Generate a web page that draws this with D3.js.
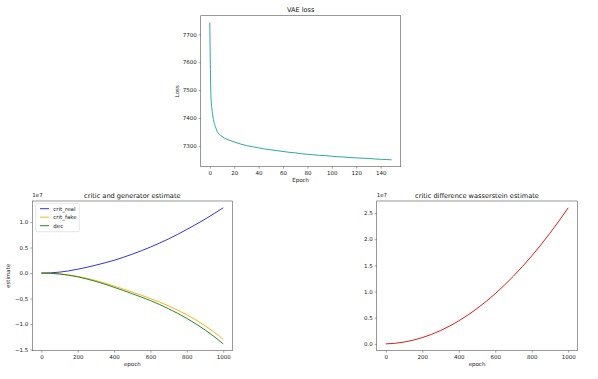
<!DOCTYPE html>
<html><head><meta charset="utf-8">
<script src="https://cdn.jsdelivr.net/npm/d3@7"></script>
<style>
html,body{margin:0;padding:0;background:#fff;}
svg{display:block;font-family:"DejaVu Sans",sans-serif;}
</style></head>
<body><svg id="c" width="598" height="379"></svg>
<script>
// ---- data ----
const vaeEpochs = [0,1,2,3,4,5,6,7,8,10,12,15,20,25,30,35,40,45,50,55,60,65,70,75,80,85,90,95,100,105,110,115,120,125,130,135,140,145,149];
const vaeLoss   = [7742,7472,7424,7394,7376,7364,7352,7346,7340,7334,7328,7322,7314,7307,7301,7297,7293,7289,7286,7283,7280,7277,7275,7272,7270,7268,7266,7265,7263,7261,7260,7258,7257,7256,7255,7253,7252,7251,7250];

const ganEpochs = [0,50,100,150,200,250,300,350,400,450,500,550,600,650,700,750,800,850,900,950,1000];
const critReal  = [0,0.004,0.018,0.042,0.075,0.113,0.155,0.201,0.25,0.308,0.371,0.438,0.51,0.588,0.671,0.76,0.855,0.954,1.057,1.166,1.28];
const critFake  = [0,-0.004,-0.016,-0.036,-0.065,-0.103,-0.148,-0.199,-0.255,-0.313,-0.373,-0.435,-0.5,-0.57,-0.646,-0.729,-0.82,-0.92,-1.033,-1.159,-1.3];
const decVals   = [0,-0.005,-0.019,-0.043,-0.075,-0.117,-0.165,-0.219,-0.28,-0.342,-0.406,-0.472,-0.54,-0.618,-0.702,-0.792,-0.89,-0.998,-1.116,-1.246,-1.39];
const wassVals  = [0,0.011,0.035,0.071,0.12,0.181,0.255,0.341,0.44,0.551,0.675,0.811,0.96,1.121,1.295,1.481,1.68,1.891,2.115,2.351,2.6];

const vaeXTicks = [0,20,40,60,80,100,120,140];
const vaeYTicks = [7300,7400,7500,7600,7700];
const ganXTicks = [0,200,400,600,800,1000];
const ganYTicks = [-1.5,-1.0,-0.5,0.0,0.5,1.0];
const wassYTicks = [0.0,0.5,1.0,1.5,2.0,2.5];

const seriesNames = ["crit_real","crit_fake","dec"];
const seriesColors = ["#1a1ae0","#ffa500","#0a800a"];

// ---- drawing ----
const svg = d3.select("#c");
const FS = 5.5, TFS = 6.6;

function mplDomain(vals){
  const mn = d3.min(vals), mx = d3.max(vals), m = (mx-mn)*0.05;
  return [mn-m, mx+m];
}

function panel(o){
  const g = svg.append("g");
  const x = d3.scaleLinear().domain(o.xDomain).range([o.l, o.r]);
  const y = d3.scaleLinear().domain(o.yDomain).range([o.b, o.t]);
  o.series.forEach(s=>{
    const data = s.x.map((v,i)=>[v,s.y[i]]);
    g.append("path").datum(data)
      .attr("fill","none").attr("stroke",s.color).attr("stroke-width",s.w||0.9)
      .attr("stroke-linejoin","round")
      .attr("d", d3.line().curve(d3.curveMonotoneX).x(d=>x(d[0])).y(d=>y(d[1])));
  });
  const xa = g.append("g").attr("transform",`translate(0,${o.b})`)
    .call(d3.axisBottom(x).tickValues(o.xTicks).tickSize(2).tickPadding(2).tickFormat(o.xFmt||d3.format("d")));
  const ya = g.append("g").attr("transform",`translate(${o.l},0)`)
    .call(d3.axisLeft(y).tickValues(o.yTicks).tickSize(2).tickPadding(2).tickFormat(o.yFmt||d3.format("d")));
  [xa,ya].forEach(a=>{
    a.select(".domain").remove();
    a.selectAll(".tick line").attr("stroke","#444").attr("stroke-width",0.5);
    a.selectAll("text").attr("font-size",FS).attr("fill","#222").attr("font-family","DejaVu Sans");
  });
  g.append("rect").attr("x",o.l).attr("y",o.t).attr("width",o.r-o.l).attr("height",o.b-o.t)
    .attr("fill","none").attr("stroke","#555").attr("stroke-width",0.6);
  g.append("text").attr("x",(o.l+o.r)/2).attr("y",o.t-3.3).attr("text-anchor","middle")
    .attr("font-size",TFS).attr("fill","#111").text(o.title);
  g.append("text").attr("x",(o.l+o.r)/2).attr("y",o.b+15.5).attr("text-anchor","middle")
    .attr("font-size",FS).attr("fill","#222").text(o.xLabel);
  if(o.yLabel){
    g.append("text").attr("transform",`translate(${o.yLabelX},${(o.t+o.b)/2}) rotate(-90)`)
      .attr("text-anchor","middle").attr("font-size",FS).attr("fill","#222").text(o.yLabel);
  }
  if(o.offset){
    g.append("text").attr("x",o.l).attr("y",o.t-4.5).attr("font-size",FS).attr("fill","#222").text(o.offset);
  }
  return {g,x,y};
}

// top: VAE loss
panel({
  l:200.7, r:400.7, t:15.7, b:166.7,
  xDomain: mplDomain(vaeEpochs), yDomain: mplDomain(vaeLoss),
  xTicks: vaeXTicks, yTicks: vaeYTicks,
  series:[{x:vaeEpochs, y:vaeLoss, color:"#2aa9a0", w:1}],
  title:"VAE loss", xLabel:"Epoch", yLabel:"Loss", yLabelX:179.3
});

// bottom-left
const bl = panel({
  l:32.3, r:232.3, t:201, b:350.7,
  xDomain: mplDomain(ganEpochs), yDomain: mplDomain(critReal.concat(critFake, decVals)),
  xTicks: ganXTicks, yTicks: ganYTicks, yFmt: d3.format(".1f"),
  series:[
    {x:ganEpochs, y:critReal, color:seriesColors[0]},
    {x:ganEpochs, y:critFake, color:seriesColors[1]},
    {x:ganEpochs, y:decVals, color:seriesColors[2]}
  ],
  title:"critic and generator estimate", xLabel:"epoch", yLabel:"estimate", yLabelX:10.3, offset:"1e7"
});
const lg = bl.g.append("g");
lg.append("rect").attr("x",35.7).attr("y",203.7).attr("width",43.6).attr("height",28)
  .attr("rx",1.2).attr("fill","#fff").attr("fill-opacity",0.8).attr("stroke","#ccc").attr("stroke-width",0.5);
seriesNames.forEach((n,i)=>{
  const yy = 208.7 + i*8.5;
  lg.append("line").attr("x1",40).attr("x2",49).attr("y1",yy).attr("y2",yy)
    .attr("stroke",seriesColors[i]).attr("stroke-width",0.9);
  lg.append("text").attr("x",53.3).attr("y",yy+2).attr("font-size",FS).attr("fill","#222").text(n);
});

// bottom-right
panel({
  l:376.7, r:577.3, t:201, b:350.7,
  xDomain: mplDomain(ganEpochs), yDomain: mplDomain(wassVals),
  xTicks: ganXTicks, yTicks: wassYTicks, yFmt: d3.format(".1f"),
  series:[{x:ganEpochs, y:wassVals, color:"#e01c1c", w:1}],
  title:"critic difference wasserstein estimate", xLabel:"epoch", offset:"1e7"
});
</script></body></html>
